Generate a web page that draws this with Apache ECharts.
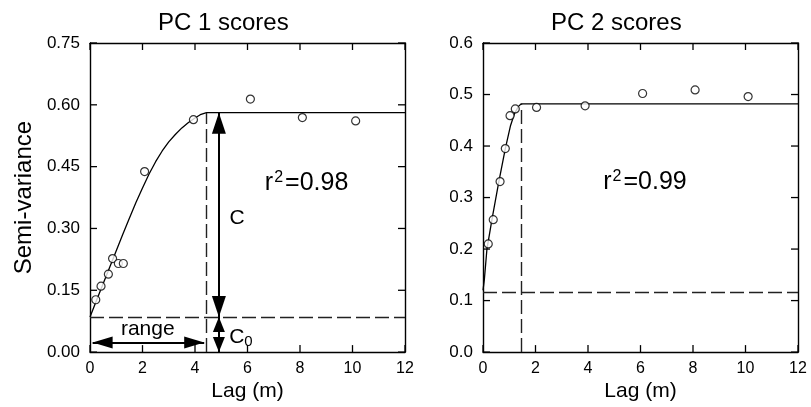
<!DOCTYPE html>
<html>
<head>
<meta charset="utf-8">
<script src="https://cdn.jsdelivr.net/npm/echarts@6/dist/echarts.min.js"></script>
<style>html,body{margin:0;padding:0;background:#fff}#c{width:811px;height:407px}</style>
</head>
<body>
<div id="c"></div>
<script>
// ---- data ----
const titles = ['PC 1 scores', 'PC 2 scores'];
const xTicks = [0, 2, 4, 6, 8, 10, 12];
const yTicks1 = ['0.00', '0.15', '0.30', '0.45', '0.60', '0.75'];
const yTicks2 = ['0.0', '0.1', '0.2', '0.3', '0.4', '0.5', '0.6'];

// PC 1 observed semi-variance
const lags1 = [0.22, 0.42, 0.70, 0.86, 1.08, 1.27, 2.08, 3.94, 6.11, 8.09, 10.12];
const semi1 = [0.127, 0.160, 0.189, 0.227, 0.215, 0.215, 0.438, 0.564, 0.614, 0.569, 0.561];
// PC 1 fitted model
const fitLag1 = [0, 0.25, 0.5, 0.75, 1, 1.25, 1.5, 1.75, 2, 2.25, 2.5, 2.75, 3, 3.25, 3.5, 3.75, 4, 4.2, 4.44, 12];
const fitSemi1 = [0.085, 0.126, 0.166, 0.206, 0.246, 0.286, 0.325, 0.363, 0.398, 0.432, 0.462, 0.488, 0.510, 0.528, 0.544, 0.557, 0.568, 0.576, 0.581, 0.581];
const nugget1 = 0.085, sill1 = 0.581, range1 = 4.44, r2_1 = '0.98';

// PC 2 observed semi-variance
const lags2 = [0.20, 0.39, 0.65, 0.85, 1.03, 1.23, 2.04, 3.89, 6.08, 8.08, 10.10];
const semi2 = [0.210, 0.257, 0.331, 0.395, 0.459, 0.472, 0.475, 0.478, 0.502, 0.509, 0.496];
// PC 2 fitted model
const fitLag2 = [0, 0.05, 0.15, 0.35, 0.6, 0.85, 1.05, 1.2, 1.35, 1.46, 12];
const fitSemi2 = [0.12, 0.14, 0.20, 0.26, 0.33, 0.395, 0.44, 0.463, 0.477, 0.482, 0.482];
const nugget2 = 0.117, sill2 = 0.482, range2 = 1.46, r2_2 = '0.99';

// annotation anchors (data space)
const arrowLagC = 4.91;      // x of C / C0 arrows
const rangeArrowY = 0.023;   // y of range arrow
const rangeArrowX = [0.1, 4.35];
const labelRange = [2.2, 0.055];
const labelC = [5.6, 0.326];
const labelC0 = [5.75, 0.036];
const labelR2_1 = [8.25, 0.409];
const labelR2_2 = [6.17, 0.33];

const FONT = 'Liberation Sans, Arial, Helvetica, sans-serif';
const pairs = (xs, ys) => xs.map((x, i) => [x, ys[i]]);

const chart = echarts.init(document.getElementById('c'), null, {renderer: 'canvas'});

function axisLine() { return {show: true, onZero: false, lineStyle: {color: '#000', width: 1.4}}; }
const noTick = {show: false};

function xAxes(gi) {
  return [
    {gridIndex: gi, type: 'value', min: 0, max: 12, interval: 2, position: 'bottom',
     axisLine: axisLine(), axisTick: noTick, splitLine: {show: false},
     axisLabel: {color: '#000', fontSize: 16, fontFamily: FONT, margin: 8},
     name: 'Lag (m)', nameLocation: 'middle', nameGap: 25,
     nameTextStyle: {color: '#000', fontSize: 21, fontFamily: FONT}},
    {gridIndex: gi, type: 'value', min: 0, max: 12, interval: 2, position: 'top',
     axisLine: axisLine(), axisTick: noTick, splitLine: {show: false}, axisLabel: {show: false}}
  ];
}
function yAxes(gi, max, interval, labels, name) {
  const idx = v => Math.round(v / interval);
  return [
    {gridIndex: gi, type: 'value', min: 0, max, interval, position: 'left',
     axisLine: axisLine(), axisTick: noTick, splitLine: {show: false},
     axisLabel: {color: '#000', fontSize: 17, fontFamily: FONT, margin: 10,
                 formatter: v => labels[idx(v)]},
     name: name || '', nameLocation: 'middle', nameGap: 54, nameRotate: 90,
     nameTextStyle: {color: '#000', fontSize: 24, fontFamily: FONT}},
    {gridIndex: gi, type: 'value', min: 0, max, interval, position: 'right',
     axisLine: axisLine(), axisTick: noTick, splitLine: {show: false}, axisLabel: {show: false}}
  ];
}

const dash = {color: '#222', width: 1.4, type: [14, 5]};
const arrowStyle = {color: '#000', width: 2, type: 'solid'};

function dashedLines(nugget, sill, range) {
  return [
    [{coord: [0, nugget], symbol: 'none', lineStyle: dash}, {coord: [12, nugget], symbol: 'none'}],
    [{coord: [range, 0], symbol: 'none', lineStyle: dash}, {coord: [range, sill], symbol: 'none'}]
  ];
}
function arrow(a, b, w, h) {
  return [
    {coord: a, symbol: 'triangle', symbolSize: [w, h], symbolOffset: [0, h / 2], lineStyle: arrowStyle},
    {coord: b, symbol: 'triangle', symbolSize: [w, h], symbolOffset: [0, h / 2]}
  ];
}
function textPoint(coord, formatter, rich) {
  return {coord, symbol: 'circle', symbolSize: 1, itemStyle: {color: 'rgba(0,0,0,0)'},
          label: {show: true, position: 'inside', formatter, rich, color: '#000'}};
}
const richR2 = {
  r: {fontSize: 25, fontFamily: FONT, color: '#000'},
  s: {fontSize: 16, fontFamily: FONT, color: '#000', padding: [0, 2, 12, 1]}
};
const richC = {
  c: {fontSize: 21, fontFamily: FONT, color: '#000'},
  b: {fontSize: 15, fontFamily: FONT, color: '#000', padding: [10, 0, 0, 0]}
};

const option = {
  backgroundColor: '#fff',
  animation: false,
  grid: [
    {left: 90, top: 43, width: 315, height: 310},
    {left: 483, top: 43, width: 315, height: 310}
  ],
  title: [
    {text: titles[0], left: 153, top: 6, textStyle: {fontSize: 24, fontWeight: 'normal', color: '#000', fontFamily: FONT}},
    {text: titles[1], left: 546, top: 6, textStyle: {fontSize: 24, fontWeight: 'normal', color: '#000', fontFamily: FONT}}
  ],
  xAxis: [...xAxes(0), ...xAxes(1)],
  yAxis: [...yAxes(0, 0.75, 0.15, yTicks1, 'Semi-variance'), ...yAxes(1, 0.6, 0.1, yTicks2)],
  series: [
    {type: 'line', xAxisIndex: 0, yAxisIndex: 0, data: pairs(fitLag1, fitSemi1),
     showSymbol: false, smooth: false, lineStyle: {color: '#000', width: 1.3}, z: 2,
     markLine: {silent: true, animation: false, label: {show: false},
       data: [
         ...dashedLines(nugget1, sill1, range1),
         arrow([arrowLagC, sill1], [arrowLagC, nugget1], 14, 21),
         arrow([arrowLagC, nugget1], [arrowLagC, 0], 12, 15),
         arrow([rangeArrowX[0], rangeArrowY], [rangeArrowX[1], rangeArrowY], 12, 20)
       ]},
     markPoint: {silent: true, animation: false, data: [
       textPoint(labelR2_1, '{r|r}{s|2}{r|=' + r2_1 + '}', richR2),
       textPoint(labelC, '{c|C}', richC),
       textPoint(labelC0, '{c|C}{b|0}', richC),
       textPoint(labelRange, '{c|range}', richC)
     ]}},
    {type: 'scatter', xAxisIndex: 0, yAxisIndex: 0, data: pairs(lags1, semi1),
     symbol: 'circle', symbolSize: 8, itemStyle: {color: '#fff', borderColor: '#000', borderWidth: 1.2}, z: 3},
    {type: 'line', xAxisIndex: 2, yAxisIndex: 2, data: pairs(fitLag2, fitSemi2),
     showSymbol: false, smooth: false, lineStyle: {color: '#000', width: 1.3}, z: 2,
     markLine: {silent: true, animation: false, label: {show: false},
       data: dashedLines(nugget2, sill2, range2)},
     markPoint: {silent: true, animation: false, data: [
       textPoint(labelR2_2, '{r|r}{s|2}{r|=' + r2_2 + '}', richR2)
     ]}},
    {type: 'scatter', xAxisIndex: 2, yAxisIndex: 2, data: pairs(lags2, semi2),
     symbol: 'circle', symbolSize: 8, itemStyle: {color: '#fff', borderColor: '#000', borderWidth: 1.2}, z: 3}
  ]
};
chart.setOption(option);

// inward tick marks on all four sides, placed through the axes' own scales
const TICK = 7;
const tickStyle = {stroke: '#000', lineWidth: 1.3};
const panels = [
  {xi: 0, yi: 0, yVals: yTicks1.map(Number), yMax: 0.75},
  {xi: 2, yi: 2, yVals: yTicks2.map(Number), yMax: 0.6}
];
const tickShapes = [];
panels.forEach(p => {
  const xL = chart.convertToPixel({xAxisIndex: p.xi}, 0);
  const xR = chart.convertToPixel({xAxisIndex: p.xi}, 12);
  const yB = chart.convertToPixel({yAxisIndex: p.yi}, 0);
  const yT = chart.convertToPixel({yAxisIndex: p.yi}, p.yMax);
  xTicks.forEach(v => {
    const px = chart.convertToPixel({xAxisIndex: p.xi}, v);
    tickShapes.push({type: 'line', silent: true, z: 50, shape: {x1: px, y1: yB, x2: px, y2: yB - TICK}, style: tickStyle});
    tickShapes.push({type: 'line', silent: true, z: 50, shape: {x1: px, y1: yT, x2: px, y2: yT + TICK}, style: tickStyle});
  });
  p.yVals.forEach(v => {
    const py = chart.convertToPixel({yAxisIndex: p.yi}, v);
    tickShapes.push({type: 'line', silent: true, z: 50, shape: {x1: xL, y1: py, x2: xL + TICK, y2: py}, style: tickStyle});
    tickShapes.push({type: 'line', silent: true, z: 50, shape: {x1: xR, y1: py, x2: xR - TICK, y2: py}, style: tickStyle});
  });
});
chart.setOption({graphic: tickShapes});
</script>
</body>
</html>
